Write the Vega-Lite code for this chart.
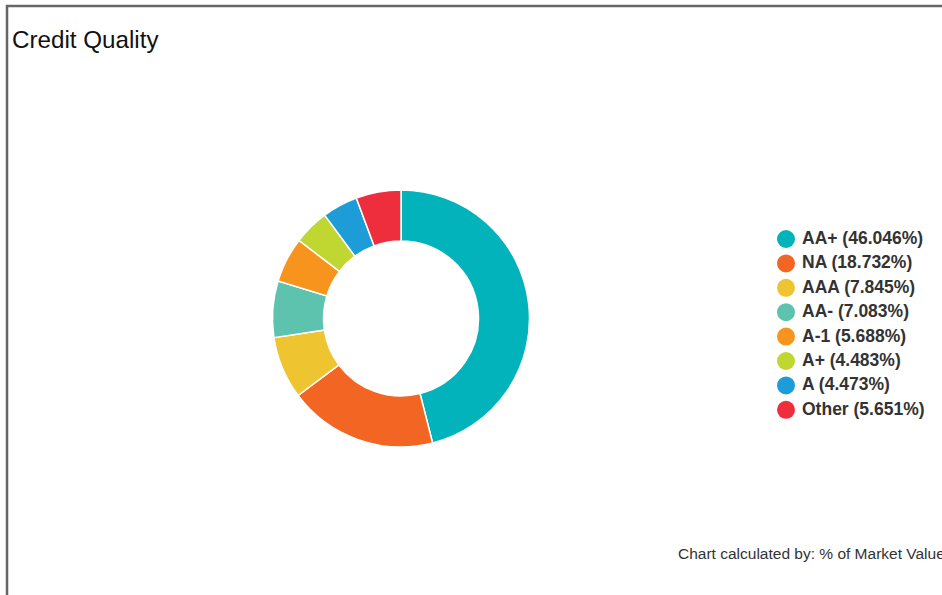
{
  "$schema": "https://vega.github.io/schema/vega-lite/v6.json",
  "width": 1000,
  "height": 700,
  "autosize": {"type": "none"},
  "padding": {"left": 7, "top": 6, "right": 0, "bottom": 0},
  "background": "white",
  "config": {
    "view": {"stroke": "#666666", "strokeWidth": 2.5},
    "font": "Liberation Sans"
  },
  "title": {
    "text": "Credit Quality",
    "anchor": "start",
    "frame": "group",
    "fontSize": 24.2,
    "fontWeight": "normal",
    "font": "Liberation Sans",
    "color": "#111111",
    "baseline": "alphabetic",
    "offset": -42,
    "dy": 24,
    "dx": 5
  },
  "layer": [
    {
      "data": {
        "values": [
          {"rating": "AA+", "label": "AA+ (46.046%)", "pct": 46.046, "rank": 1},
          {"rating": "NA", "label": "NA (18.732%)", "pct": 18.732, "rank": 2},
          {"rating": "AAA", "label": "AAA (7.845%)", "pct": 7.845, "rank": 3},
          {"rating": "AA-", "label": "AA- (7.083%)", "pct": 7.083, "rank": 4},
          {"rating": "A-1", "label": "A-1 (5.688%)", "pct": 5.688, "rank": 5},
          {"rating": "A+", "label": "A+ (4.483%)", "pct": 4.483, "rank": 6},
          {"rating": "A", "label": "A (4.473%)", "pct": 4.473, "rank": 7},
          {"rating": "Other", "label": "Other (5.651%)", "pct": 5.651, "rank": 8}
        ]
      },
      "mark": {
        "type": "arc",
        "x": 394,
        "y": 312.5,
        "outerRadius": 128.5,
        "innerRadius": 77.5,
        "stroke": "white",
        "strokeWidth": 1.5
      },
      "encoding": {
        "theta": {"field": "pct", "type": "quantitative", "stack": true},
        "order": {"field": "rank", "type": "quantitative"},
        "color": {
          "field": "label",
          "type": "nominal",
          "scale": {
            "domain": ["AA+ (46.046%)", "NA (18.732%)", "AAA (7.845%)", "AA- (7.083%)", "A-1 (5.688%)", "A+ (4.483%)", "A (4.473%)", "Other (5.651%)"],
            "range": ["#02B3BC", "#F26522", "#EFC431", "#5DC3AE", "#F7941D", "#BFD730", "#1E9CD7", "#EE2E3C"]
          },
          "legend": {
            "orient": "none",
            "legendX": 770,
            "legendY": 224,
            "title": null,
            "padding": 0,
            "symbolType": "circle",
            "symbolSize": 324,
            "symbolStrokeWidth": 0,
            "symbolOpacity": 1,
            "labelFont": "Liberation Sans",
            "labelFontSize": 17.5,
            "labelFontWeight": "bold",
            "labelColor": "#333333",
            "labelOffset": 7,
            "labelLimit": 300,
            "rowPadding": 6.4
          }
        }
      }
    },
    {
      "data": {"values": [{"note": "Chart calculated by: % of Market Value", "px": 671, "py": 552.5}]},
      "mark": {
        "type": "text",
        "align": "left",
        "baseline": "alphabetic",
        "font": "Liberation Sans",
        "fontSize": 15.5,
        "color": "#333333"
      },
      "encoding": {
        "text": {"field": "note", "type": "nominal"},
        "x": {"field": "px", "type": "quantitative", "axis": null, "scale": {"domain": [0, 1000], "nice": false, "zero": false}},
        "y": {"field": "py", "type": "quantitative", "axis": null, "scale": {"domain": [0, 700], "nice": false, "zero": false, "reverse": true}}
      }
    }
  ]
}
